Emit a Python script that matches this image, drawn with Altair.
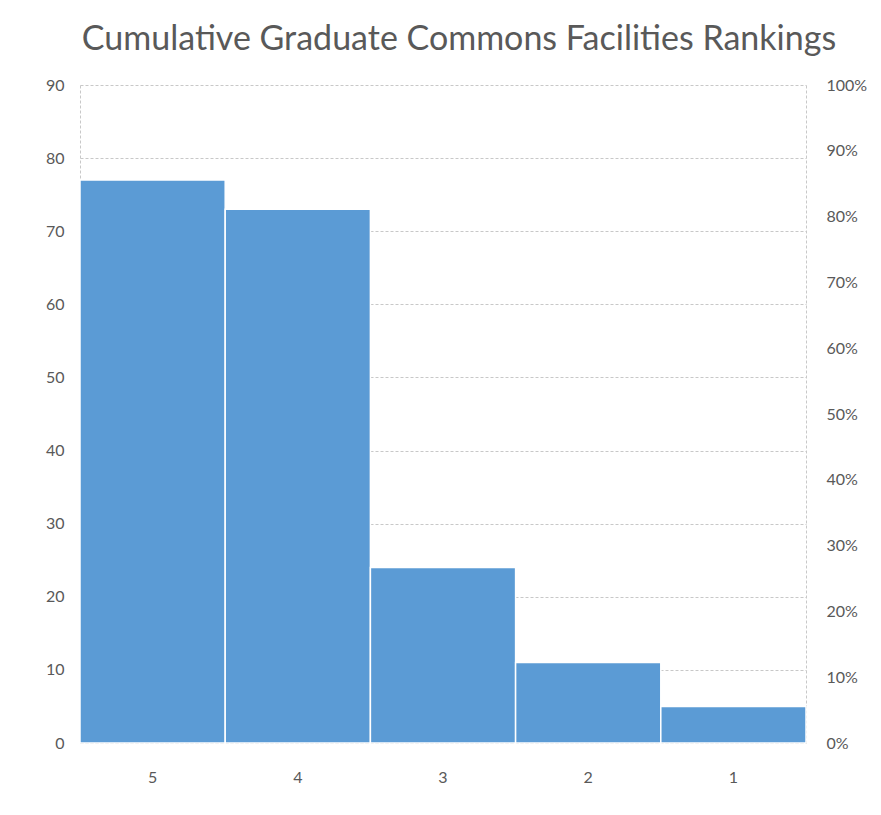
import altair as alt
import pandas as pd

rankings = ["5", "4", "3", "2", "1"]
counts = [77, 73, 24, 11, 5]
left_ticks = [0, 10, 20, 30, 40, 50, 60, 70, 80, 90]
right_ticks = [0, 0.1, 0.2, 0.3, 0.4, 0.5, 0.6, 0.7, 0.8, 0.9, 1.0]

df = pd.DataFrame({"rank": rankings, "count": counts})
df["share"] = df["count"] / 90.0

FONT = "Lato"
GRAY = "#595959"
LINE = "#C8C8C8"

x_enc = alt.X("rank:N", sort=rankings, title=None,
              scale=alt.Scale(paddingInner=0, paddingOuter=0),
              axis=alt.Axis(labelAngle=0, labelFontSize=16, labelColor=GRAY, labelFont=FONT,
                            ticks=False, labelPadding=26, domainColor=LINE, domainDash=[3, 2]))

bars = alt.Chart(df).mark_bar(color="#5B9BD5", stroke="white", strokeWidth=1.5).encode(
    x=x_enc,
    y=alt.Y("count:Q", title=None,
            scale=alt.Scale(domain=[0, 90], nice=False),
            axis=alt.Axis(values=left_ticks, labelFontSize=16, labelColor=GRAY, labelFont=FONT,
                          ticks=False, labelPadding=16, domainColor=LINE, domainDash=[3, 2],
                          grid=True, gridColor=LINE, gridDash=[3, 2])),
)

right = alt.Chart(df).mark_point(opacity=0).encode(
    x=alt.X("rank:N", sort=rankings),
    y=alt.Y("share:Q", title=None,
            scale=alt.Scale(domain=[0, 1], nice=False),
            axis=alt.Axis(orient="right", values=right_ticks, format=".0%", labelFontSize=16,
                          labelColor=GRAY, labelFont=FONT, ticks=False, labelPadding=20,
                          domainColor=LINE, domainDash=[3, 2], grid=False)),
)

chart = alt.layer(bars, right).resolve_scale(y="independent").properties(
    width=726,
    height=658,
    title=alt.TitleParams("Cumulative Graduate Commons Facilities Rankings",
                          fontSize=34, font=FONT, fontWeight="normal", color=GRAY,
                          anchor="middle", offset=20, dx=16),
    autosize=alt.AutoSizeParams(type="none"),
    padding={"left": 72, "top": 77, "right": 62, "bottom": 50},
).configure_view(stroke=None)

chart.save("out.html", embed_options={"renderer": "svg", "actions": False})
